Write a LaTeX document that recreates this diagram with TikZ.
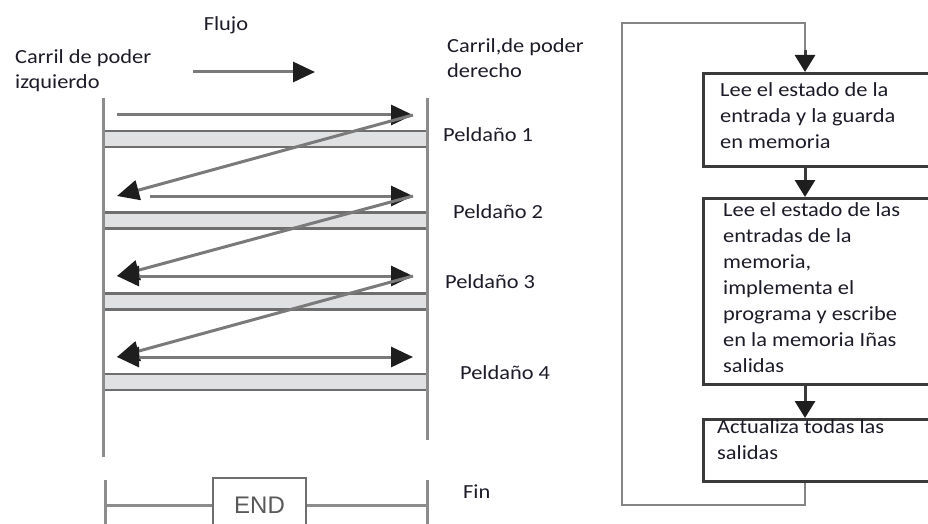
\documentclass[tikz,border=0pt]{standalone}
\usepackage{fontspec}
\setmainfont[FakeStretch=1.12]{Carlito}
\newfontfamily\endfont{Liberation Sans}
\usepackage{tikz}
\usetikzlibrary{arrows.meta, positioning}

\definecolor{textdark}{HTML}{1C1C28}
\definecolor{railgray}{HTML}{8C8C8C}
\definecolor{runggray}{HTML}{6E6E6E}
\definecolor{rungfill}{HTML}{E0E1E3}
\definecolor{shaftgray}{HTML}{7A7A7A}
\definecolor{tipdark}{HTML}{1E1E1E}
\definecolor{boxdark}{HTML}{3A3A3A}
\definecolor{loopgray}{HTML}{858585}

\begin{document}
\begin{tikzpicture}[
        x=1pt, y=-1pt,
        label/.style={inner sep=0pt, align=left, text=textdark, font=\fontsize{20}{25.5}\selectfont},
        rung/.style={rectangle, draw=runggray, fill=rungfill, line width=2.5pt, minimum width=324pt, minimum height=16pt, inner sep=0pt},
        rail/.style={draw=railgray, line width=3pt},
        flow/.style={-{Triangle[length=22pt, width=20pt, color=tipdark]}, draw=shaftgray, line width=3pt},
        twoway/.style={{Triangle[length=22pt, width=20pt, color=tipdark]}-{Triangle[length=22pt, width=20pt, color=tipdark]}, draw=shaftgray, line width=3pt},
        endbox/.style={rectangle, draw=runggray, fill=white, line width=2.5pt, minimum width=93pt, minimum height=54pt, text=black!65, font=\endfont\fontsize{24}{28}\selectfont},
        stepbox/.style={rectangle, draw=boxdark, fill=white, line width=3pt, anchor=north west, minimum width=240pt, inner sep=0pt},
        steptext/.style={inner sep=0pt, align=left, text=textdark, font=\fontsize{20}{26}\selectfont},
        loopline/.style={draw=loopgray, line width=2.5pt},
        down/.style={-{Triangle[length=17pt, width=20pt, color=tipdark]}, draw=boxdark, line width=3pt}
    ]
        \fill[white] (0,0) rectangle (928,524);
        \useasboundingbox (0,0) rectangle (928,524);
        \clip (0,0) rectangle (928,524);

        % Textos de cabecera
        \node[label] (flujo) at (226,25) {Flujo};
        \node[label, anchor=north west] (izq) at (15,49) {Carril de poder\\izquierdo};
        \node[label, anchor=north west] (der) at (447,38) {Carril,de poder\\derecho};

        % Flecha de flujo
        \coordinate (f0) at (193,72);
        \coordinate (f1) at (315,72);
        \draw[flow] (f0) -- (f1);

        % Peldanos
        \node[rung] (r1) at (265,139) {};
        \node[rung] (r2) at (265,220.5) {};
        \node[rung] (r3) at (265,301.5) {};
        \node[rung] (r4) at (265,382) {};

        % Carriles
        \coordinate (lt) at (103,98);
        \coordinate (lb) at (103,457);
        \coordinate (rt) at (427,98);
        \coordinate (rb) at (427,440);
        \draw[rail] (lt) -- (lb);
        \draw[rail] (rt) -- (rb);

        % Recorrido del barrido
        \coordinate (w1) at (117,115);
        \coordinate (e1) at (413,115);
        \coordinate (w2) at (117,196);
        \coordinate (s2) at (150,196);
        \coordinate (e2) at (413,196);
        \coordinate (w3) at (117,276);
        \coordinate (e3) at (413,276);
        \coordinate (w4) at (117,357);
        \coordinate (e4) at (413,357);
        \draw[flow] (w1) -- (e1);
        \draw[flow] (e1) -- (w2);
        \draw[flow] (s2) -- (e2);
        \draw[flow] (e2) -- (w3);
        \draw[twoway] (w3) -- (e3);
        \draw[flow] (e3) -- (w4);
        \draw[twoway] (w4) -- (e4);

        % Etiquetas de peldanos
        \node[label, anchor=west] (p1) at (443,135) {Peldaño 1};
        \node[label, anchor=west] (p2) at (453,212) {Peldaño 2};
        \node[label, anchor=west] (p3) at (445,282) {Peldaño 3};
        \node[label, anchor=west] (p4) at (460,373) {Peldaño 4};
        \node[label, anchor=west] (fin) at (463,492) {Fin};

        % Instruccion END
        \coordinate (elt) at (105,480);
        \coordinate (elb) at (105,530);
        \coordinate (ert) at (427,480);
        \coordinate (erb) at (427,530);
        \draw[rail] (elt) -- (elb);
        \draw[rail] (ert) -- (erb);
        \node[endbox] (endi) at (259.5,505) {END};
        \draw[rail] (elt |- endi.west) -- (endi.west);
        \draw[rail] (endi.east) -- (ert |- endi.east);

        % Ciclo de barrido
        \node[stepbox, minimum height=93pt] (b1) at (702,72) {};
        \node[stepbox, minimum height=186pt] (b2) at (702,197) {};
        \node[stepbox, minimum height=62pt] (b3) at (702,418) {};
        \node[steptext, below right=10pt and 18pt of b1.north west] (t1) {Lee el estado de la\\entrada y la guarda\\en memoria};
        \node[steptext, below right=5pt and 21pt of b2.north west] (t2) {Lee el estado de las\\entradas de la\\memoria,\\implementa el\\programa y escribe\\en la memoria Iñas\\salidas};
        \node[steptext, below right=1pt and 15pt of b3.north west] (t3) {Actualiza todas las\\salidas};

        \coordinate (lq) at (805,23);
        \coordinate (lp) at (622,23);
        \coordinate (lo) at (622,505);
        \draw[loopline] (b3.south -| lq) -- (lq |- lo) -- (lo) -- (lp) -- (lq) -- (lq |- 0,55);
        \draw[down] (lq |- 0,50) -- (b1.north -| lq);
        \draw[down] (b1.south -| lq) -- (b2.north -| lq);
        \draw[down] (b2.south -| lq) -- (b3.north -| lq);
    \end{tikzpicture}
\end{document}
